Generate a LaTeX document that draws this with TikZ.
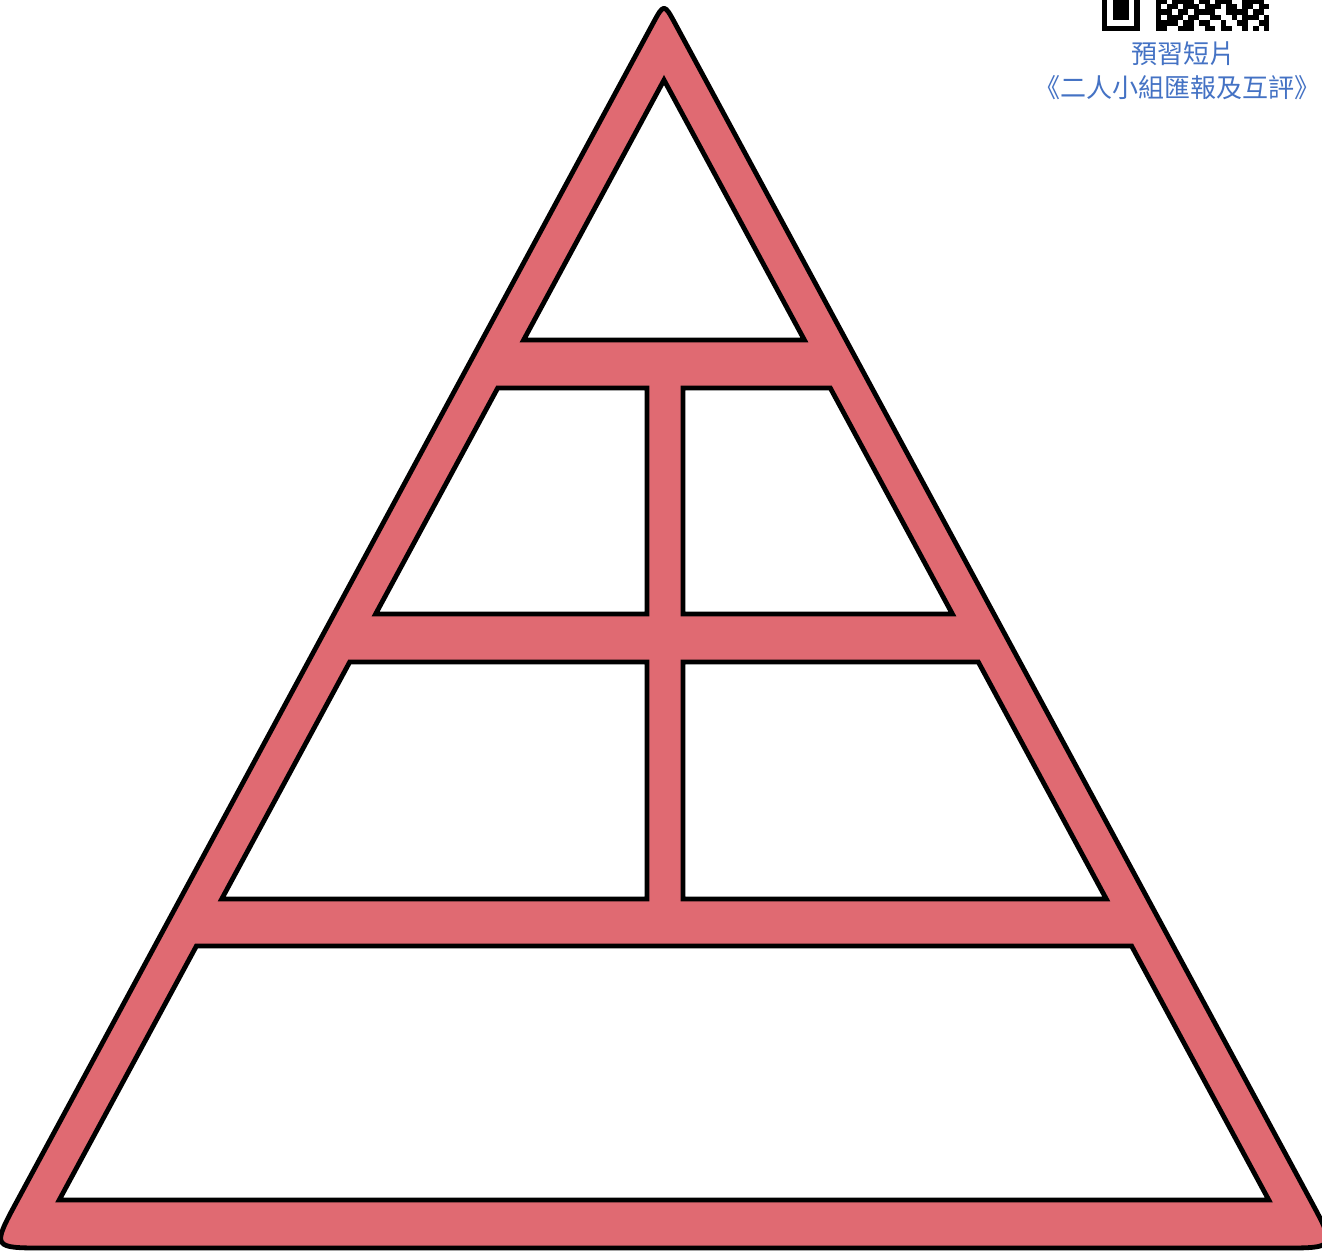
\documentclass[tikz,border=0pt]{standalone}
\usepackage{fontspec}
\newfontfamily\cjk{Noto Sans CJK TC}
\usepackage{xcolor}
\definecolor{bandred}{RGB}{224,106,114}
\definecolor{noteblue}{RGB}{68,114,196}

\begin{document}
\begin{tikzpicture}[
  x=0.5pt, y=-0.5pt,
  band/.style={fill=bandred, draw=black, line width=2.4pt, line join=round},
  cell/.style={fill=white, draw=black, line width=2.4pt, line join=miter},
  note/.style={text=noteblue, font=\cjk\fontsize{13}{16}\selectfont, inner sep=0pt},
  qr/.style={fill=black}
]
\fill[white] (0,0) rectangle (1322,1255);
\useasboundingbox (0,0) rectangle (1322,1255);

% outer pyramid, corners as soft curves
\coordinate (apex) at (664,3);
\coordinate (bl) at (-8.3,1248);
\coordinate (br) at (1336.3,1248);
\filldraw[band] (45.7,1248) -- (1282.3,1248) .. controls (br) .. (1310.7,1200.5)
  -- (675.4,24.1) .. controls (apex) .. (652.6,24.1)
  -- (17.35,1200.5) .. controls (bl) .. (45.7,1248) -- cycle;

% cells
\filldraw[cell] (664,80) -- (804.4,340) -- (523.6,340) -- cycle;
\filldraw[cell] (497.7,388) -- (647,388) -- (647,614) -- (375.6,614) -- cycle;
\filldraw[cell] (683,388) -- (830.3,388) -- (952.4,614) -- (683,614) -- cycle;
\filldraw[cell] (349.7,662) -- (647,662) -- (647,899) -- (221.7,899) -- cycle;
\filldraw[cell] (683,662) -- (978.3,662) -- (1106.3,899) -- (683,899) -- cycle;
\filldraw[cell] (196.4,946) -- (1131.6,946) -- (1268.8,1200) -- (59.2,1200) -- cycle;

% qr code (bottom strip)
\def\m{5.4}
\fill[qr] (1102,-2) rectangle ({1102+7*\m},31);
\fill[white] ({1102+\m},-2) rectangle ({1102+6*\m},{31-\m});
\fill[qr] ({1102+2*\m},-2) rectangle ({1102+5*\m},{31-2*\m});
\foreach \c in {10,11,13,14,15,16,18,19,21,22,23,26,27,28,29}
  \fill[qr] ({1102+\c*\m},-2) rectangle ({1102+(\c+1)*\m},{31-5*\m});
\foreach \c in {10,12,13,15,16,17,19,20,21,23,24,26,27,29,30}
  \fill[qr] ({1102+\c*\m},{31-5*\m}) rectangle ({1102+(\c+1)*\m},{31-4*\m});
\foreach \c in {10,11,12,14,15,17,18,19,20,23,24,25,26,28,29}
  \fill[qr] ({1102+\c*\m},{31-4*\m}) rectangle ({1102+(\c+1)*\m},{31-3*\m});
\foreach \c in {10,12,13,14,16,17,20,21,24,26,27,28,30}
  \fill[qr] ({1102+\c*\m},{31-3*\m}) rectangle ({1102+(\c+1)*\m},{31-2*\m});
\foreach \c in {10,11,12,13,15,16,18,19,22,25,26,29,30}
  \fill[qr] ({1102+\c*\m},{31-2*\m}) rectangle ({1102+(\c+1)*\m},{31-\m});
\foreach \c in {10,11,14,15,16,19,20,22,23,26,28,30}
  \fill[qr] ({1102+\c*\m},{31-\m}) rectangle ({1102+(\c+1)*\m},31);

% caption
\node[note] (title) at (1183,54) {預習短片};
\node[note] (subtitle) at (1177,88) {《二人小組匯報及互評》};
\end{tikzpicture}
\end{document}
